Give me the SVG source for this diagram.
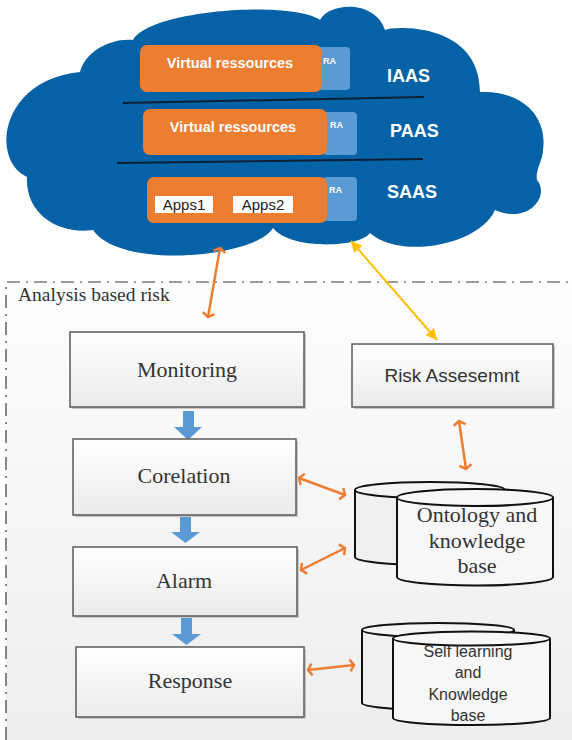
<svg xmlns="http://www.w3.org/2000/svg" width="572" height="740" viewBox="0 0 572 740">
  <defs>
    <style>
      .layer { fill: #ED7D31; }
      .ra { fill: #5B9BD5; }
      .ratxt { font: bold 9px "Liberation Sans", Arial, sans-serif; fill: #ffffff; }
      .vr { font: bold 14.5px "Liberation Sans", Arial, sans-serif; fill: #ffffff; text-anchor: middle; }
      .tier { font: bold 18px "Liberation Sans", Arial, sans-serif; fill: #ffffff; }
      .app { fill: #ffffff; }
      .apptxt { font: 15px "Liberation Sans", Arial, sans-serif; fill: #222222; text-anchor: middle; }
      .sep { stroke: #0d1f33; stroke-width: 2; fill: none; }
      .box { fill: url(#boxFill); stroke: #5a5a5a; stroke-width: 1.5; }
      .shadow { fill: #c8c8c8; }
      .serif { font-family: "Liberation Serif", "Times New Roman", serif; font-size: 22px; fill: #333333; text-anchor: middle; }
      .sans { font-family: "Liberation Sans", Arial, sans-serif; fill: #333333; text-anchor: middle; }
      .cyl { stroke: #111111; stroke-width: 2; }
      .orange { stroke: #ED7D31; stroke-width: 2.5; fill: none; marker-start: url(#oh); marker-end: url(#oh); }
      .yellow { stroke: #FFC000; stroke-width: 2; fill: none; marker-start: url(#yh); marker-end: url(#yh); }
      .block { fill: #5B9BD5; }
    </style>
    <linearGradient id="areaFill" x1="0" y1="0" x2="0" y2="1">
      <stop offset="0" stop-color="#fdfdfd"/>
      <stop offset="1" stop-color="#eeeeee"/>
    </linearGradient>
    <linearGradient id="boxFill" x1="0" y1="0" x2="0" y2="1">
      <stop offset="0" stop-color="#ffffff"/>
      <stop offset="1" stop-color="#ebebeb"/>
    </linearGradient>
    <marker id="oh" viewBox="-8 -8 10 16" refX="0" refY="0" markerWidth="10" markerHeight="16" markerUnits="userSpaceOnUse" orient="auto-start-reverse">
      <path d="M-4,-6 L0,0 L-4,6" fill="none" stroke="#ED7D31" stroke-width="2.5"/>
    </marker>
    <marker id="yh" viewBox="-12 -7 13 14" refX="0" refY="0" markerWidth="13" markerHeight="14" markerUnits="userSpaceOnUse" orient="auto-start-reverse">
      <path d="M-11,-5.5 L0,0 L-11,5.5 Z" fill="#FFC000"/>
    </marker>
  </defs>

  <rect width="572" height="740" fill="#ffffff"/>

  <!-- analysis area: shaded frame with dash-dot border -->
  <g id="analysis-frame">
    <rect x="6" y="282" width="566" height="458" fill="url(#areaFill)"/>
    <path d="M6,740 V282 H572" fill="none" stroke="#3a3a3a" stroke-width="1.2" stroke-dasharray="13 6 2 6"/>
    <text x="18" y="301" font-family="'Liberation Serif', 'Times New Roman', serif" font-size="19.5" fill="#333333">Analysis based risk</text>
  </g>

  <!-- cloud with the three service tiers -->
  <g id="cloud">
    <path fill="#0662A6" d="M27,177 C-10,160 0,80 80,72 C85,52 110,38 133,40 C150,10 290,0 320,20 C330,2 375,0 385,30 C400,25 480,25 480,92 C520,90 548,115 543,150 C543,160 535,170 537,180 C550,195 530,225 495,210 C480,245 400,260 370,233 C360,248 290,250 273,228 C255,258 120,270 93,230 C60,235 25,215 27,177 Z"/>
    <path class="sep" d="M123,103 L424,97"/>
    <path class="sep" d="M117,163 L423,159"/>
  </g>

  <g id="iaas">
    <rect class="ra" x="318" y="47" width="32" height="43" rx="4"/>
    <rect class="layer" x="140" y="45" width="182" height="47" rx="7"/>
    <text class="vr" x="230" y="68">Virtual ressources</text>
    <text class="ratxt" x="323" y="64">RA</text>
    <text class="tier" x="387" y="82">IAAS</text>
  </g>

  <g id="paas">
    <rect class="ra" x="323" y="112" width="34" height="43" rx="4"/>
    <rect class="layer" x="143" y="109" width="184" height="46" rx="7"/>
    <text class="vr" x="233" y="132">Virtual ressources</text>
    <text class="ratxt" x="330" y="128">RA</text>
    <text class="tier" x="390" y="137">PAAS</text>
  </g>

  <g id="saas">
    <rect class="ra" x="323" y="177" width="34" height="44" rx="4"/>
    <rect class="layer" x="147" y="177" width="180" height="46" rx="7"/>
    <rect class="app" x="155" y="196" width="58" height="17"/>
    <text class="apptxt" x="184" y="210">Apps1</text>
    <rect class="app" x="233" y="196" width="60" height="17"/>
    <text class="apptxt" x="263" y="210">Apps2</text>
    <text class="ratxt" x="329" y="193">RA</text>
    <text class="tier" x="387" y="198">SAAS</text>
  </g>

  <!-- connectors -->
  <g id="connectors">
    <path class="orange" d="M220,248 L208,317"/>
    <path class="yellow" d="M351,241 L437,340"/>
    <path class="orange" d="M459,421 L466,469"/>
    <path class="orange" d="M299,478 L345,495"/>
    <path class="orange" d="M301,570 L345,548"/>
    <path class="orange" d="M308,670 L354,665"/>
    <!-- downward block arrows between the processing steps -->
    <path class="block" d="M183,411 H194 V427 H202 L188,440 L174,427 H183 Z"/>
    <path class="block" d="M180,515 H191 V532 H200 L185.5,543 L171,532 H180 Z"/>
    <path class="block" d="M181,617 H192 V634 H201 L186.5,645 L172,634 H181 Z"/>
  </g>

  <g id="monitoring">
    <rect class="shadow" x="72" y="334" width="234" height="75"/>
    <rect class="box" x="70" y="332" width="234" height="75"/>
    <text class="serif" x="187" y="377">Monitoring</text>
  </g>

  <g id="risk-assessment">
    <rect class="shadow" x="354" y="346" width="201" height="63"/>
    <rect class="box" x="352" y="344" width="201" height="63"/>
    <text class="sans" x="452" y="382" font-size="19">Risk Assesemnt</text>
  </g>

  <g id="corelation">
    <rect class="shadow" x="75" y="441" width="223" height="76"/>
    <rect class="box" x="73" y="439" width="223" height="76"/>
    <text class="serif" x="184" y="483">Corelation</text>
  </g>

  <g id="alarm">
    <rect class="shadow" x="75" y="549" width="224" height="69"/>
    <rect class="box" x="73" y="547" width="224" height="69"/>
    <text class="serif" x="184" y="588">Alarm</text>
  </g>

  <g id="response">
    <rect class="shadow" x="78" y="649" width="228" height="70"/>
    <rect class="box" x="76" y="647" width="228" height="70"/>
    <text class="serif" x="190" y="688">Response</text>
  </g>

  <g id="ontology-kb">
    <!-- back cylinder -->
    <path class="cyl" fill="#f0f0f0" d="M355,490 V557 A75,8 0 0 0 505,557 V490"/>
    <ellipse class="cyl" fill="#f4f4f4" cx="430" cy="490" rx="75" ry="8"/>
    <!-- front cylinder -->
    <path class="cyl" fill="#f7f7f7" d="M397,497.5 V577 A78,8.5 0 0 0 553,577 V497.5"/>
    <ellipse class="cyl" fill="#f7f7f7" cx="475" cy="497.5" rx="78" ry="8.5"/>
    <text class="serif" x="477" y="522">Ontology and</text>
    <text class="serif" x="477" y="548">knowledge</text>
    <text class="serif" x="477" y="573">base</text>
  </g>

  <g id="self-learning-kb">
    <path class="cyl" fill="#f0f0f0" d="M362,630 V703 A76,7 0 0 0 514,703 V630"/>
    <ellipse class="cyl" fill="#f4f4f4" cx="438" cy="630" rx="76" ry="7"/>
    <path class="cyl" fill="#f7f7f7" d="M393,638.5 V718 A78.5,7 0 0 0 550,718 V638.5"/>
    <ellipse class="cyl" fill="#f7f7f7" cx="471.5" cy="638.5" rx="78.5" ry="7"/>
    <text class="sans" x="468" y="657" font-size="16">Self learning</text>
    <text class="sans" x="468" y="678" font-size="16">and</text>
    <text class="sans" x="468" y="700" font-size="16">Knowledge</text>
    <text class="sans" x="468" y="721" font-size="16">base</text>
  </g>
</svg>
